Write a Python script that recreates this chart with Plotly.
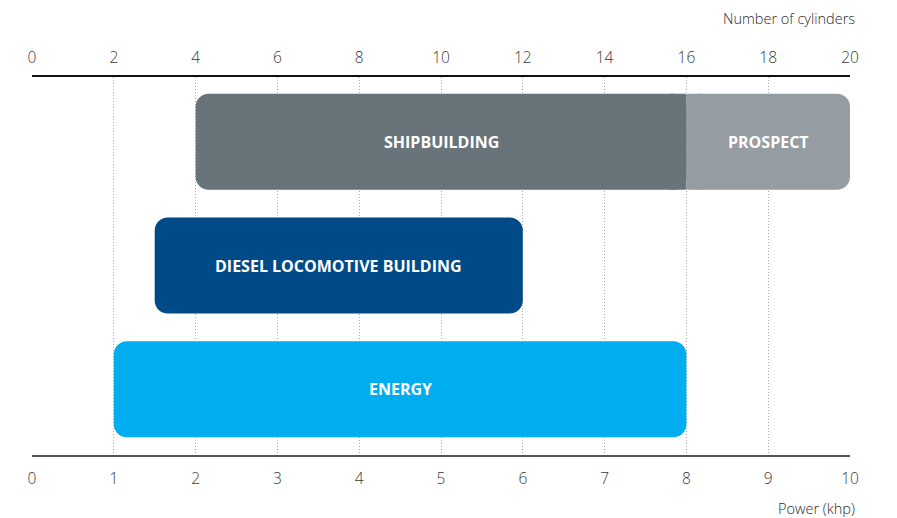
import plotly.graph_objects as go

# ---- data ----
categories = ["SHIPBUILDING", "DIESEL LOCOMOTIVE BUILDING", "ENERGY"]
power_start = [2, 1.5, 1]          # khp
power_end = [8, 6, 8]              # khp
bar_colors = ["#69747A", "#004B87", "#00ADEE"]
prospect_label = "PROSPECT"
prospect_row = "SHIPBUILDING"
prospect_start = 8
prospect_end = 10
prospect_color = "#959CA2"

power_ticks = list(range(0, 11))
cyl_ticks = list(range(0, 21, 2))
grid_vals = list(range(1, 10))

# ---- geometry helpers (derived from the layout) ----
W, H = 897, 518
ML, MR, MT, MB = 32, 47, 77, 63
X_RANGE = [0, 10]
RADIUS_PX = 13
BAR_W = 0.776
px_per_unit = (W - ML - MR) / (X_RANGE[1] - X_RANGE[0])
joint = (RADIUS_PX + 4) / px_per_unit   # width of square patch at the joint

fig = go.Figure()
# square patches where shipbuilding meets prospect (drawn underneath)
ship_idx = categories.index(prospect_row)
fig.add_trace(go.Bar(
    y=[prospect_row, prospect_row],
    x=[joint, joint],
    base=[power_end[ship_idx] - joint, prospect_start], orientation="h",
    marker=dict(color=[bar_colors[ship_idx], prospect_color], line=dict(width=0),
                cornerradius=1),
    width=BAR_W, hoverinfo="skip", showlegend=False,
))
# main rounded bars
fig.add_trace(go.Bar(
    y=categories + [prospect_row],
    x=[e - s for s, e in zip(power_start, power_end)] + [prospect_end - prospect_start],
    base=power_start + [prospect_start], orientation="h",
    marker=dict(color=bar_colors + [prospect_color], line=dict(width=0),
                cornerradius=RADIUS_PX),
    width=BAR_W, hoverinfo="skip", showlegend=False,
))
# invisible traces to anchor the extra axes
fig.add_trace(go.Scatter(x=[0, 20], y=[categories[0], categories[0]], xaxis="x2",
                         mode="markers", marker=dict(opacity=0), hoverinfo="skip",
                         showlegend=False))
fig.add_trace(go.Scatter(x=[0, 10], y=[categories[0], categories[0]], xaxis="x3",
                         mode="markers", marker=dict(opacity=0), hoverinfo="skip",
                         showlegend=False))

label_font = dict(family="Open Sans", size=16, color="white", weight=700)
for i, c in enumerate(categories):
    fig.add_annotation(x=(power_start[i] + power_end[i]) / 2, y=c, text=c,
                       showarrow=False, xref="x", yref="y", font=label_font)
fig.add_annotation(x=(prospect_start + prospect_end) / 2, y=prospect_row, text=prospect_label,
                   showarrow=False, xref="x", yref="y", font=label_font)

tick_font = dict(family="Open Sans", size=15.5, color="#383838", weight=300)
title_font = dict(family="Open Sans", size=14.5, color="#2a2a2a", weight=300)

fig.add_annotation(text="Number of cylinders", xref="paper", yref="paper",
                   x=1.008, y=1.156, xanchor="right", yanchor="middle", showarrow=False,
                   font=title_font)
fig.add_annotation(text="Power (khp)", xref="paper", yref="paper",
                   x=1.009, y=-0.142, xanchor="right", yanchor="middle", showarrow=False,
                   font=title_font)

fig.update_layout(
    width=W, height=H,
    margin=dict(l=ML, r=MR, t=MT, b=MB),
    paper_bgcolor="white", plot_bgcolor="white",
    barmode="overlay",
    xaxis=dict(range=X_RANGE, tickvals=power_ticks, showgrid=False, zeroline=False,
               showline=True, linecolor="#555555", linewidth=1.5,
               ticks="", tickfont=tick_font, ticklabelstandoff=9, fixedrange=True),
    xaxis2=dict(range=[0, 20], tickvals=cyl_ticks, overlaying="x", side="top",
                showgrid=False, zeroline=False, showline=True, linecolor="#111111",
                linewidth=1.5, ticks="", tickfont=tick_font, ticklabelstandoff=6),
    xaxis3=dict(range=X_RANGE, tickvals=grid_vals, overlaying="x", showticklabels=False,
                showgrid=True, gridcolor="#A8A8A8", griddash="1px,2px", gridwidth=1,
                zeroline=False, showline=False, ticks=""),
    yaxis=dict(categoryorder="array", categoryarray=categories, range=[2.531, -0.523],
               showticklabels=False, showgrid=False, zeroline=False, showline=False),
    font=dict(family="Open Sans"),
)

fig.write_html("out.html")
